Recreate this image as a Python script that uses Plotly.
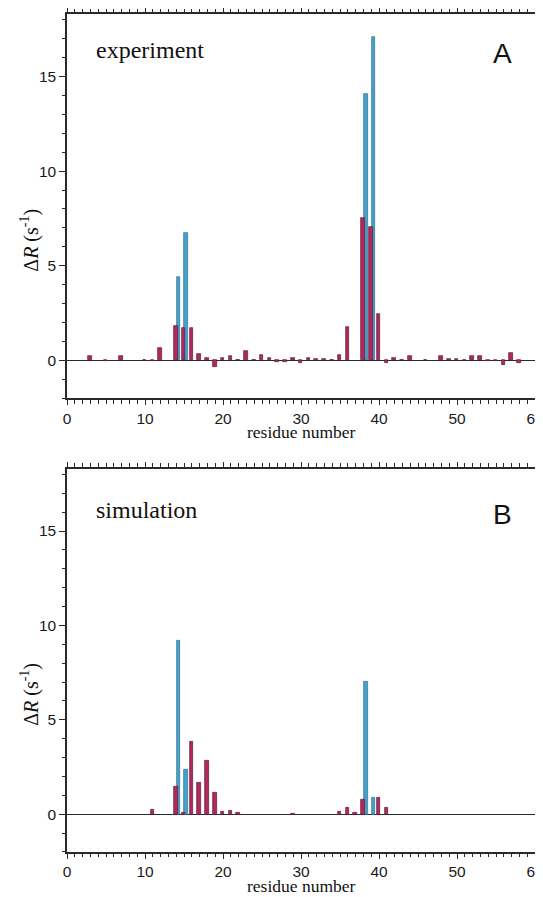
import plotly.graph_objects as go

# ---------------- data ----------------
# Panel A (experiment)
exp_res_red = [3, 5, 7, 10, 11, 12, 14, 15, 16, 17, 18, 19, 20, 21, 22, 23, 24, 25, 26, 27, 28, 29,
               30, 31, 32, 33, 34, 35, 36, 38, 39, 40, 41, 42, 43, 44, 46, 48, 49, 50, 51, 52, 53,
               54, 55, 56, 57, 58]
exp_val_red = [0.23, -0.04, 0.23, 0.02, -0.05, 0.64, 1.82, 1.73, 1.73, 0.35, 0.14, -0.32, 0.14, 0.25,
               0.04, 0.48, 0.02, 0.28, 0.14, -0.08, -0.06, 0.12, -0.14, 0.14, 0.07, 0.07, 0.05, 0.28,
               1.77, 7.55, 7.03, 2.43, -0.16, 0.14, 0.04, 0.21, 0.02, 0.21, 0.07, 0.07, 0.01, 0.21,
               0.21, -0.04, -0.04, -0.26, 0.37, -0.12]
exp_res_blue = [14, 15, 38, 39]
exp_val_blue = [4.41, 6.71, 14.1, 17.1]

# Panel B (simulation)
sim_res_red = [11, 14, 15, 16, 17, 18, 19, 20, 21, 22, 29, 35, 36, 37, 38, 40, 41]
sim_val_red = [0.25, 1.48, 0.08, 3.83, 1.68, 2.86, 1.16, 0.12, 0.19, 0.07, 0.02, 0.14, 0.35, 0.08,
               0.78, 0.88, 0.37]
sim_res_blue = [14, 15, 38, 39]
sim_val_blue = [9.2, 2.38, 7.0, 0.88]

x_ticks = [0, 10, 20, 30, 40, 50, 60]
y_ticks = [0, 5, 10, 15]

BLUE = "#45a2cd"
RED = "#b3285f"
EDGE_B = "#2f6f8c"
EDGE_R = "#5e1a35"
AX = "#2a2a2a"

fig = go.Figure()

def add_panel(xa, ya, rb, vb, rr, vr):
    fig.add_trace(go.Bar(x=rb, y=vb, width=0.5, offset=0.05, marker=dict(color=BLUE, line=dict(color=EDGE_B, width=0.7)),
                         xaxis=xa, yaxis=ya, showlegend=False))
    fig.add_trace(go.Bar(x=rr, y=vr, width=0.45, offset=-0.27, marker=dict(color=RED, line=dict(color=EDGE_R, width=0.7)),
                         xaxis=xa, yaxis=ya, showlegend=False))

add_panel("x", "y", exp_res_blue, exp_val_blue, exp_res_red, exp_val_red)
add_panel("x2", "y2", sim_res_blue, sim_val_blue, sim_res_red, sim_val_red)

tickfont = dict(family="Liberation Sans, Arial, sans-serif", size=15.5, color="#1a1a1a")
SERIF = "Liberation Serif, Times New Roman, serif"

def xaxis_cfg(anchor):
    return dict(range=[0, 60], tickvals=x_ticks, ticks="outside", ticklen=5, tickwidth=1.2, tickcolor=AX,
                minor=dict(dtick=1, tick0=0, ticks="outside", ticklen=3.5, tickwidth=1, tickcolor=AX),
                showline=True, linecolor=AX, linewidth=1.5, mirror="ticks", showgrid=False, zeroline=False,
                tickfont=tickfont, anchor=anchor, automargin=False, ticklabeloverflow="allow")

def yaxis_cfg(domain, anchor):
    return dict(range=[-2, 18.3], domain=domain, tickvals=y_ticks, ticks="outside", ticklen=6, tickwidth=1.2,
                tickcolor=AX,
                minor=dict(dtick=1, tick0=0, ticks="outside", ticklen=3.5, tickwidth=1, tickcolor=AX),
                showline=True, linecolor=AX, linewidth=1.5, mirror="ticks", showgrid=False,
                zeroline=True, zerolinecolor=AX, zerolinewidth=1.3,
                tickfont=tickfont, anchor=anchor, automargin=False, ticklabeloverflow="allow")

ann = []
for xd, yd, label, letter, ly, lly in [("x", "y", "experiment", "A", 0.906, 0.896),
                                        ("x2", "y2", "simulation", "B", 0.893, 0.88)]:
    ann += [
        dict(text=label, xref=xd + " domain", yref=yd + " domain", x=0.058, y=ly, xanchor="left", yanchor="middle",
             showarrow=False, font=dict(family=SERIF, size=24, color="#111")),
        dict(text=letter, xref=xd + " domain", yref=yd + " domain", x=0.931, y=lly, xanchor="center",
             yanchor="middle", showarrow=False, font=dict(family="Liberation Sans, Arial, sans-serif", size=28,
                                                          color="#111")),
        dict(text="residue number", xref=xd + " domain", yref=yd + " domain", x=0.5, y=0, yshift=-34,
             xanchor="center", yanchor="middle", showarrow=False, borderpad=0,
             font=dict(family=SERIF, size=17.5, color="#111")),
        dict(text="Δ<i>R</i> (s<sup>-1</sup>)", xref=xd + " domain", yref=yd + " domain", x=0, xshift=-37,
             y=0.41, textangle=-90, xanchor="center", yanchor="middle", showarrow=False,
             font=dict(family=SERIF, size=20, color="#111")),
    ]

# page body has an 8px margin: figure is sized/offset to compensate
fig.update_layout(
    width=535, height=889,
    margin=dict(l=59, r=8, t=6, b=45),
    paper_bgcolor="white", plot_bgcolor="white",
    barmode="overlay", bargap=0,
    xaxis=xaxis_cfg("y"),
    yaxis=yaxis_cfg([0.5414, 1.0], "x"),
    xaxis2=xaxis_cfg("y2"),
    yaxis2=yaxis_cfg([0.0, 0.4574], "x2"),
    annotations=ann,
)

fig.write_html("out.html")
